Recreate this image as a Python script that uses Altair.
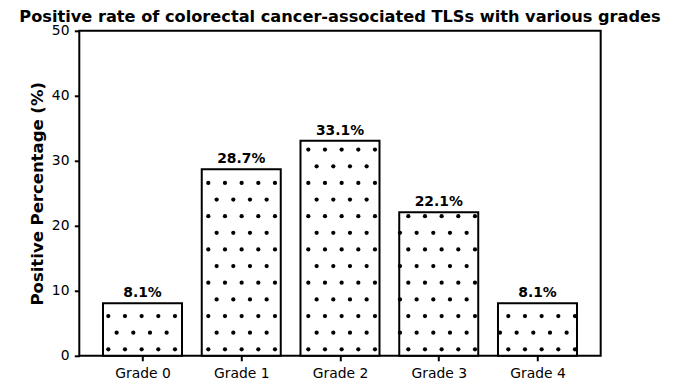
import altair as alt
import pandas as pd

# ---- data ----
categories = ["Grade 0", "Grade 1", "Grade 2", "Grade 3", "Grade 4"]
positions = [0, 1, 2, 3, 4]
values = [8.1, 28.7, 33.1, 22.1, 8.1]
y_ticks = [0, 10, 20, 30, 40, 50]

df = pd.DataFrame({"idx": positions, "grade": categories, "value": values})

# ---- layout ----
W, H = 521.4, 325
X_DOMAIN = [-0.64, 4.64]
Y_DOMAIN = [0, 50]
HALF = 0.4

# hatch '.' texture lattice (data units)
DX = 0.16878
DY = 2.56
X0 = -0.3463
Y0 = 1.0
NC, NR = 30, 15

FONT = "DejaVu Sans"

x_scale = alt.Scale(domain=X_DOMAIN, nice=False, zero=False)
y_scale = alt.Scale(domain=Y_DOMAIN, nice=False)

label_expr = "[" + ",".join(f"'{c}'" for c in categories) + "][datum.value]"

x_axis = alt.Axis(values=positions, labelExpr=label_expr, title="", grid=False,
                  labelBaseline="alphabetic", labelPadding=16.5)
y_axis = alt.Axis(values=y_ticks, title="Positive Percentage (%)", grid=False,
                  titleX=-41.8, titleY=H / 2, titleAngle=270, titleAlign="center",
                  titleBaseline="middle", labelPadding=5.3, labelBaseline="middle")

base = alt.Chart(df).transform_calculate(
    x1=f"datum.idx - {HALF}", x2=f"datum.idx + {HALF}",
    label="format(datum.value, '.1f') + '%'"
)

bars_fill = base.mark_bar(color="white").encode(
    x=alt.X("x1:Q", scale=x_scale, axis=x_axis),
    x2="x2:Q",
    y=alt.Y("value:Q", scale=y_scale, axis=y_axis),
    y2=alt.datum(0),
)

dots = alt.Chart(alt.sequence(0, NC * NR, as_="n")).transform_calculate(
    col=f"floor(datum.n / {NR})",
    row=f"datum.n % {NR}",
).transform_calculate(
    px=f"{X0} + datum.col * {DX} + (datum.row % 2 == 1 ? {DX / 2} : 0)",
    py=f"{Y0} + datum.row * {DY}",
).transform_calculate(
    idx="round(datum.px)"
).transform_lookup(
    lookup="idx", from_=alt.LookupData(df, "idx", ["value"])
).transform_filter(
    f"datum.idx >= 0 && datum.idx <= 4 && abs(datum.px - datum.idx) <= {HALF} + 0.004 && datum.py <= datum.value"
).mark_point(filled=True, color="black", size=18, opacity=1, strokeWidth=0).encode(
    x=alt.X("px:Q", scale=x_scale, axis=x_axis),
    y=alt.Y("py:Q", scale=y_scale, axis=y_axis),
)

bars_outline = base.mark_bar(fillOpacity=0, stroke="black", strokeWidth=2).encode(
    x=alt.X("x1:Q", scale=x_scale, axis=x_axis),
    x2="x2:Q",
    y=alt.Y("value:Q", scale=y_scale, axis=y_axis),
    y2=alt.datum(0),
)

texts = base.mark_text(font=FONT, fontWeight="bold", fontSize=13.9, baseline="alphabetic",
                       dy=-6, color="black").encode(
    x=alt.X("idx:Q", scale=x_scale, axis=x_axis),
    y=alt.Y("value:Q", scale=y_scale, axis=y_axis),
    text="label:N",
)

chart = alt.layer(bars_fill, dots, bars_outline, texts).properties(
    width=W, height=H,
    title=alt.TitleParams(
        text="Positive rate of colorectal cancer-associated TLSs with various grades",
        font=FONT, fontSize=16.2, fontWeight="bold", color="black",
        anchor="middle", offset=0, dy=1,
    ),
    autosize=alt.AutoSizeParams(type="none"),
    padding={"left": 71.3, "top": 22.8, "right": 70, "bottom": 26},
).configure_view(
    stroke="black", strokeWidth=2
).configure_axis(
    domain=False, grid=False, ticks=True, tickColor="black", tickWidth=2, tickSize=5,
    labelFont=FONT, labelFontSize=13.9, labelColor="black",
    titleFont=FONT, titleFontSize=16.5, titleFontWeight="bold", titleColor="black",
)

chart.save("out.html", embed_options={"renderer": "svg", "actions": False})
